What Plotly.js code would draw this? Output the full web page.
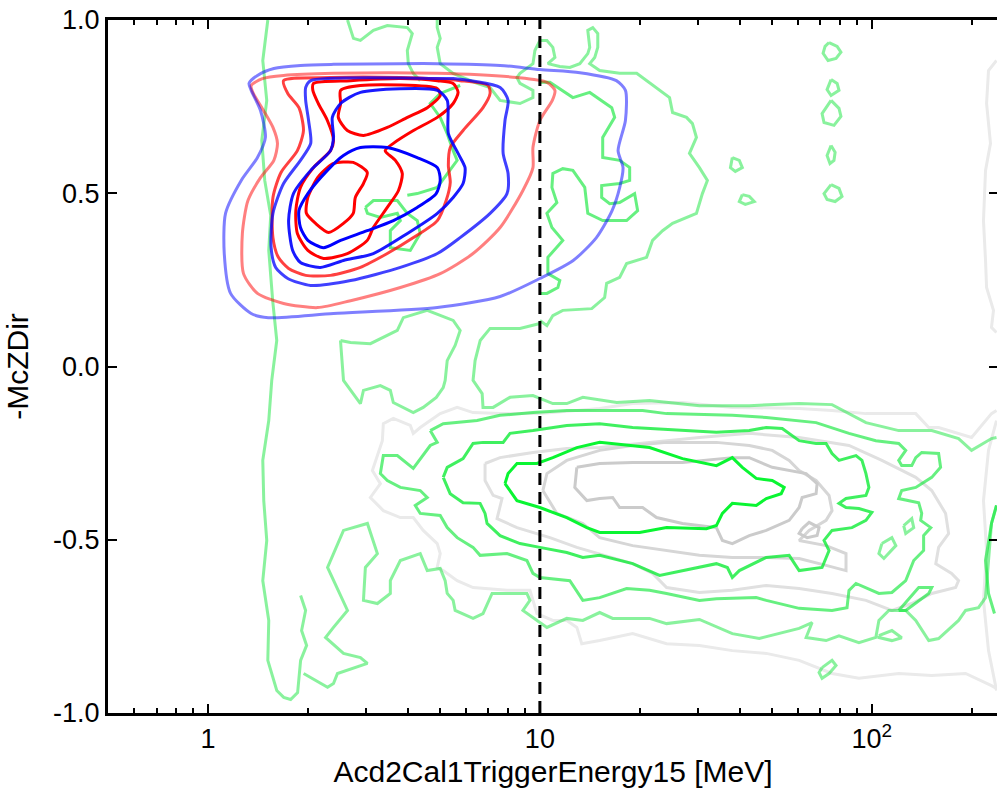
<!DOCTYPE html>
<html><head><meta charset="utf-8">
<script src="https://cdn.plot.ly/plotly-3.0.1.min.js"></script>
<style>html,body{margin:0;padding:0;overflow:hidden;background:#fff}#chart{width:1000px;height:793px}</style>
</head><body><div id="chart"></div>
<script>
// ---- contour paths in data units: x = Acd2Cal1TriggerEnergy15 [MeV], y = -McZDir ----
// blue sample
const blueOuterX=[1.33,1.41,1.58,1.90,2.39,3.80,4.91,7.59,10.0,13.2,17.0,18.1,18.1,17.2,17.8,17.4,16.5,14.8,12.6,10.0,7.59,4.91,2.39,1.52,1.35,1.17,1.12,1.13,1.26,1.41,1.49,1.44,1.35,1.33];
const blueOuterY=[0.817,0.840,0.860,0.869,0.872,0.874,0.874,0.869,0.857,0.848,0.825,0.797,0.710,0.623,0.574,0.517,0.450,0.372,0.306,0.254,0.202,0.170,0.153,0.141,0.153,0.211,0.326,0.442,0.537,0.603,0.661,0.739,0.797,0.817];
const blueMidX=[1.97,2.04,4.91,5.48,7.59,8.02,7.85,7.75,8.02,7.96,7.08,5.75,4.91,3.80,2.69,2.04,1.74,1.60,1.55,1.57,1.69,1.90,2.04,2.01,1.97,1.97];
const blueMidY=[0.805,0.825,0.831,0.831,0.805,0.768,0.710,0.615,0.557,0.499,0.442,0.372,0.326,0.286,0.248,0.234,0.254,0.286,0.343,0.442,0.528,0.595,0.644,0.710,0.768,0.805];
const blueInAX=[2.39,2.37,2.51,2.88,4.91,5.26,5.30,5.67,5.95,5.87,5.48,4.91,3.99,3.15,2.56,2.18,1.90,1.80,1.75,1.81,2.04,2.34,2.39];
const blueInAY=[0.661,0.719,0.759,0.791,0.797,0.768,0.672,0.615,0.574,0.528,0.488,0.442,0.384,0.326,0.306,0.286,0.300,0.335,0.421,0.499,0.566,0.623,0.661];
const blueInBX=[2.56,2.88,3.47,4.27,4.91,5.01,4.87,4.27,3.62,3.02,2.51,2.23,2.00,1.90,1.88,2.00,2.29,2.56];
const blueInBY=[0.609,0.632,0.632,0.603,0.574,0.537,0.499,0.459,0.421,0.392,0.364,0.343,0.364,0.401,0.450,0.499,0.566,0.609];
// red sample
const redOuterX=[1.35,1.46,1.69,2.39,4.91,8.53,10.5,11.1,10.9,10.0,9.53,9.53,8.89,7.59,6.29,5.01,3.80,2.69,2.14,1.69,1.41,1.28,1.27,1.32,1.44,1.58,1.62,1.57,1.47,1.37,1.35];
const redOuterY=[0.811,0.831,0.840,0.846,0.846,0.834,0.820,0.797,0.768,0.710,0.632,0.574,0.508,0.401,0.326,0.268,0.228,0.190,0.170,0.182,0.211,0.268,0.384,0.479,0.545,0.595,0.644,0.690,0.739,0.788,0.811];
const redMidX=[1.69,2.34,3.80,5.75,6.98,7.08,6.74,5.87,5.37,5.30,5.37,5.22,4.91,4.16,3.47,2.88,2.34,1.97,1.75,1.63,1.57,1.57,1.66,1.86,1.94,1.88,1.74,1.69];
const redMidY=[0.825,0.834,0.834,0.825,0.811,0.788,0.747,0.681,0.632,0.580,0.531,0.479,0.421,0.372,0.326,0.286,0.263,0.263,0.283,0.315,0.372,0.488,0.560,0.623,0.681,0.747,0.788,0.825];
const redInX=[2.08,2.69,3.80,4.91,5.48,5.67,5.48,4.91,4.16,3.62,3.42,3.67,3.85,3.75,3.47,3.15,3.02,2.63,2.23,2.00,1.86,1.84,1.90,2.08,2.34,2.39,2.29,2.15,2.07,2.08];
const redInY=[0.817,0.825,0.831,0.825,0.817,0.791,0.759,0.719,0.681,0.644,0.623,0.595,0.557,0.508,0.459,0.401,0.364,0.326,0.312,0.335,0.384,0.450,0.517,0.574,0.623,0.652,0.710,0.759,0.797,0.817];
const redCoreAX=[2.51,2.88,4.91,5.01,4.58,3.99,3.47,2.94,2.63,2.47,2.51,2.51];
const redCoreAY=[0.797,0.811,0.802,0.782,0.747,0.719,0.690,0.667,0.681,0.719,0.759,0.797];
const redCoreBX=[2.39,2.74,3.02,2.94,2.78,2.74,2.56,2.31,2.11,1.98,2.00,2.14,2.29,2.39];
const redCoreBY=[0.586,0.589,0.560,0.528,0.488,0.442,0.413,0.387,0.413,0.442,0.488,0.545,0.574,0.586];
// green sample
const g1LeftX=[1.515,1.463,1.504,1.453,1.483,1.546,1.525,1.567,1.612,1.557,1.525,1.463,1.473,1.504,1.463,1.525,1.515,1.612,1.692,1.775,1.863,1.902,1.983,1.915,1.969,1.902];
const g1LeftY=[1.0,0.883,0.768,0.652,0.537,0.436,0.335,0.190,0.075,-0.040,-0.156,-0.271,-0.387,-0.502,-0.618,-0.733,-0.848,-0.935,-0.955,-0.961,-0.941,-0.848,-0.805,-0.762,-0.704,-0.661];
const g1LowX=[1.942,2.293,2.389,2.456,3.023,2.880,2.561,2.261,2.389,2.633,2.293,2.561,3.023,3.129,3.239,2.981,2.941,3.239,3.544,3.544,3.798,4.361,4.578,5.009,5.184,5.258,5.480,5.555,6.29,6.74,7.177,9.14,9.333,8.89,9.80,10.50,12.05,13.47,15.14,16.57,21.40,24.08,30.24,37.99,45.80,60.39,66.07,63.39,72.79,79.63,91.44,102.8,105.0,112.5,126.5,135.6,148.4,158.9,182.5,191.6,209.6,220.0,224.6,229.3,237.4];
const g1LowY=[-0.886,-0.926,-0.915,-0.886,-0.857,-0.840,-0.828,-0.782,-0.753,-0.704,-0.580,-0.473,-0.453,-0.494,-0.540,-0.580,-0.675,-0.684,-0.655,-0.618,-0.560,-0.540,-0.589,-0.583,-0.618,-0.655,-0.675,-0.704,-0.727,-0.713,-0.655,-0.655,-0.675,-0.704,-0.733,-0.753,-0.727,-0.733,-0.710,-0.727,-0.727,-0.742,-0.730,-0.771,-0.785,-0.756,-0.739,-0.782,-0.791,-0.777,-0.797,-0.782,-0.733,-0.704,-0.704,-0.733,-0.791,-0.785,-0.733,-0.704,-0.696,-0.667,-0.560,-0.453,-0.401];
const g1BandTopX=[10.0,8.71,7.08,6.61,6.38,6.29,6.70,6.74,7.23,8.128,9.53,10.94,12.05,13.47,17.04,21.40,30.24,42.73,60.39,75.87,95.98,120.5,151.5,182.5,199.7,229.3,237.4];
const g1BandTopY=[0.124,0.110,0.110,0.075,0.017,-0.040,-0.078,-0.118,-0.118,-0.089,-0.084,-0.107,-0.107,-0.089,-0.104,-0.098,-0.113,-0.113,-0.107,-0.110,-0.162,-0.185,-0.185,-0.208,-0.242,-0.208,-0.205];
const g1HoleX=[2.508,2.561,2.880,2.941,3.307,3.544,3.618,4.155,4.452,4.874,5.114,5.184,5.258,5.555,5.752,5.48,4.578,3.878,3.720,3.086,2.688,2.508];
const g1HoleY=[0.075,-0.040,-0.107,-0.069,-0.055,-0.069,-0.104,-0.133,-0.118,-0.089,-0.061,-0.040,0.017,0.061,0.104,0.133,0.162,0.141,0.104,0.066,0.069,0.075];
const g1UpperX=[10.0,10.50,10.94,11.72,14.33,15.67,15.89,17.39,18.25,20.96,21.85,23.42,25.10,29.62,30.87,31.96,30.24,28.22,29.62,28.81,27.65,25.10,24.58,21.40,19.57,17.39,15.14,14.13,14.63,14.94,14.94,14.43,13.94,14.13,13.94,13.19,12.31,11.48,10.57,11.10,10.94,10.50,10.0,9.66,9.53,8.71,8.53,8.71,9.53,9.53,8.71,7.585,7.078,6.469,5.48,5.009,4.906,5.009,4.906,4.906];
const g1UpperY=[0.133,0.118,0.147,0.162,0.167,0.199,0.240,0.257,0.297,0.315,0.364,0.392,0.413,0.442,0.499,0.537,0.574,0.615,0.661,0.701,0.719,0.733,0.776,0.820,0.846,0.846,0.854,0.874,0.892,0.921,0.961,0.978,0.970,0.921,0.903,0.874,0.863,0.866,0.874,0.892,0.921,0.941,0.941,0.912,0.874,0.846,0.834,0.817,0.797,0.776,0.759,0.768,0.805,0.817,0.846,0.874,0.921,0.947,0.978,1.0];
const g1TopLeftX=[2.633,2.744,2.880,3.151,3.471,3.987,4.127,3.987,4.015,4.155,4.361];
const g1TopLeftY=[1.0,0.947,0.941,0.970,0.984,0.978,0.961,0.912,0.874,0.846,0.825];
const g1IslandX=[[74.3,78.6,80.7,78.0,73.8,71.3,72.3,74.3],[75.35,78.6,79.63,75.35,73.3,75.35],[75.35,79.63,80.7,76.9,71.77,70.8,75.35],[75.35,77.5,76.9,74.8,73.3,75.35],[75.35,79.63,81.3,77.5,73.3,71.77,75.35],[37.99,39.88,40.72,38.79,37.5,37.99],[40.72,42.73,44.23,41.57,39.88,40.72],[70.80,75.87,78.0,74.31,70.80,69.34,70.80],[105.0,114.9,123.0,114.9,105.0,105.0],[107.2,114.9,118.1,111.0,108.7,105.0,107.2],[124.7,131.9,133.7,126.5,124.7]];
const g1IslandY=[[0.935,0.924,0.907,0.889,0.883,0.904,0.924,0.935],[0.828,0.817,0.797,0.782,0.799,0.828],[0.768,0.745,0.722,0.696,0.704,0.730,0.768],[0.638,0.618,0.595,0.586,0.609,0.638],[0.525,0.514,0.491,0.476,0.482,0.499,0.525],[0.603,0.595,0.574,0.563,0.574,0.603],[0.496,0.491,0.476,0.468,0.476,0.496],[-0.869,-0.848,-0.863,-0.886,-0.900,-0.883,-0.869],[-0.777,-0.762,-0.783,-0.791,-0.782,-0.777],[-0.511,-0.494,-0.517,-0.545,-0.554,-0.540,-0.511],[-0.459,-0.439,-0.465,-0.482,-0.459]];
const g2BandX=[4.674,5.114,6.469,7.585,9.53,12.05,15.14,20.39,24.08,37.99,48.08,67.93,85.33,102.8,120.5,126.5,120.5,123.0,131.9,135.6,141.3,158.9,161.1,151.5,135.6,123.0,120.5,138.4,141.3,140.3,150.5,143.2,143.2,133.7,126.5,114.9,105.0,95.98,89.57,85.33,84.17,75.87,60.39,48.08,44.85,34.02,30.24,24.08,21.40,18.25,15.14,13.47,12.31,10.0,9.53,9.14,7.96,6.605,6.29,5.634,5.258,5.009,4.361,4.213,4.578,4.361,3.798,3.471,3.307,3.376,3.720,4.155,4.674,4.906,4.674];
const g2BandY=[-0.185,-0.165,-0.156,-0.141,-0.133,-0.127,-0.127,-0.127,-0.136,-0.141,-0.147,-0.162,-0.193,-0.214,-0.222,-0.242,-0.271,-0.286,-0.286,-0.263,-0.248,-0.251,-0.291,-0.320,-0.349,-0.358,-0.381,-0.393,-0.424,-0.444,-0.465,-0.488,-0.531,-0.560,-0.618,-0.652,-0.655,-0.638,-0.626,-0.646,-0.696,-0.704,-0.698,-0.675,-0.667,-0.670,-0.675,-0.655,-0.646,-0.641,-0.667,-0.675,-0.618,-0.609,-0.597,-0.560,-0.540,-0.545,-0.522,-0.494,-0.465,-0.430,-0.424,-0.401,-0.378,-0.358,-0.349,-0.329,-0.309,-0.257,-0.257,-0.294,-0.228,-0.219,-0.185];
const g2UpperX=[10.0,10.72,12.57,14.13,16.46,16.80,15.46,15.46,17.39,18.64,18.64,17.39,15.35,15.35,16.23,17.39,19.29,19.70,18.25,15.46,13.94,13.65,12.57,11.72,10.94,10.87,11.25,10.50,10.87,11.72,10.57,10.57,11.48,11.33,10.50,10.0];
const g2UpperY=[0.820,0.820,0.776,0.791,0.747,0.719,0.661,0.603,0.595,0.574,0.537,0.528,0.522,0.488,0.470,0.473,0.499,0.450,0.421,0.421,0.442,0.517,0.566,0.571,0.557,0.517,0.473,0.442,0.401,0.364,0.315,0.268,0.248,0.228,0.211,0.211];
const g2MidX=[3.987,4.272,4.906,5.258,5.634,5.48,5.258,5.009,4.674,5.009,5.752];
const g2MidY=[0.494,0.499,0.517,0.557,0.595,0.623,0.672,0.719,0.759,0.788,0.811];
const g2LoopX=[2.981,3.151,3.720,3.987,4.272,4.361,4.070,3.544,3.544,3.798,3.720,3.307,3.023,2.981];
const g2LoopY=[0.459,0.479,0.479,0.442,0.421,0.384,0.335,0.343,0.392,0.421,0.442,0.430,0.442,0.459];
const g2RightX=[237.4,229.3,220.0,224.6,234.1];
const g2RightY=[-0.401,-0.453,-0.560,-0.655,-0.713];
const g2IslandX=[120.5,138.4,151.5,148.4,126.5,120.5];
const g2IslandY=[-0.704,-0.638,-0.638,-0.655,-0.704,-0.704];
const g3X=[5.114,5.258,5.87,6.29,6.74,7.75,8.128,9.53,12.05,15.14,19.03,24.08,34.02,42.73,48.08,53.69,60.39,67.93,72.79,75.87,79.63,89.57,93.36,95.98,97.98,95.98,83.59,79.63,83.59,91.44,100.0,95.98,87.12,75.87,71.77,74.31,70.80,60.39,56.35,48.08,39.88,37.99,36.71,34.02,26.89,25.10,22.94,19.03,15.14,13.47,12.05,10.0,8.71,7.585,6.933,6.836,6.605,5.87,5.367,5.114];
const g3Y=[-0.320,-0.291,-0.266,-0.222,-0.219,-0.219,-0.193,-0.185,-0.170,-0.165,-0.176,-0.182,-0.190,-0.185,-0.176,-0.179,-0.214,-0.222,-0.222,-0.251,-0.271,-0.257,-0.271,-0.309,-0.349,-0.372,-0.381,-0.395,-0.407,-0.410,-0.421,-0.444,-0.465,-0.473,-0.502,-0.531,-0.580,-0.589,-0.545,-0.551,-0.589,-0.609,-0.580,-0.569,-0.589,-0.597,-0.603,-0.569,-0.545,-0.551,-0.537,-0.522,-0.511,-0.488,-0.453,-0.424,-0.395,-0.393,-0.367,-0.320];
const g4X=[7.85,8.02,8.53,9.80,10.94,12.92,15.14,18.25,21.40,26.89,34.02,37.99,40.72,44.85,50.10,54.43,53.32,48.08,44.85,37.99,35.46,34.02,31.74,24.08,19.97,15.14,13.85,12.05,10.0,8.53,7.85];
const g4Y=[-0.338,-0.309,-0.280,-0.280,-0.263,-0.234,-0.219,-0.228,-0.234,-0.266,-0.286,-0.263,-0.291,-0.323,-0.329,-0.349,-0.367,-0.381,-0.401,-0.395,-0.424,-0.459,-0.468,-0.465,-0.479,-0.479,-0.465,-0.436,-0.407,-0.387,-0.338];
// grey sample
const greyAX=[237.4,229.3,199.7,158.9,148.4,135.6,95.98,75.87,60.39,37.99,26.89,19.03,15.14,10.0,7.585,6.29,5.634,5.009,4.361,4.155,4.070,3.618,3.376,3.353,3.129,3.307,3.086,3.376,3.798,4.155,4.452,4.906,5.009,4.906,5.114,5.634,6.29,7.96,9.333,9.80,10.94,12.05,12.92,13.37,15.14,19.03,24.08,30.24,37.99,48.08,60.39,75.87,91.44,120.5,151.5,191.6,229.3,237.4];
const greyAY=[-0.127,-0.136,-0.205,-0.176,-0.176,-0.136,-0.136,-0.127,-0.121,-0.118,-0.104,-0.107,-0.121,-0.136,-0.136,-0.133,-0.118,-0.136,-0.176,-0.193,-0.170,-0.150,-0.165,-0.214,-0.300,-0.338,-0.378,-0.416,-0.436,-0.436,-0.473,-0.511,-0.540,-0.580,-0.589,-0.618,-0.638,-0.646,-0.646,-0.713,-0.733,-0.733,-0.753,-0.800,-0.791,-0.771,-0.800,-0.805,-0.820,-0.828,-0.848,-0.886,-0.900,-0.886,-0.892,-0.886,-0.921,-0.929];
const greyBX=[6.836,7.585,9.53,12.05,15.14,21.40,30.24,42.73,60.39,85.33,107.2,135.6,151.5,166.8,170.3,158.9,155.8,173.9,182.5,178.8,151.5,131.9,114.9,95.98,75.87,60.39,48.08,37.99,30.24,24.08,21.85,19.03,15.14,12.92,10.72,8.53,7.43,7.69,7.23,6.836,6.836];
const greyBY=[-0.280,-0.263,-0.248,-0.237,-0.234,-0.219,-0.205,-0.193,-0.205,-0.228,-0.271,-0.320,-0.358,-0.424,-0.482,-0.522,-0.569,-0.597,-0.618,-0.638,-0.655,-0.684,-0.704,-0.675,-0.655,-0.641,-0.632,-0.646,-0.652,-0.638,-0.597,-0.569,-0.540,-0.522,-0.494,-0.465,-0.439,-0.381,-0.372,-0.329,-0.280];
const greyCX=[10.21,10.50,12.05,15.14,19.03,24.08,34.02,42.73,50.10,56.35,60.39,67.93,74.31,75.87,72.79,64.71,60.39,72.79,83.59,83.59,72.79,60.39,48.08,37.99,30.24,24.08,19.03,15.14,13.47,11.25,10.21];
const greyCY=[-0.358,-0.309,-0.271,-0.242,-0.228,-0.219,-0.219,-0.228,-0.242,-0.271,-0.300,-0.329,-0.372,-0.416,-0.444,-0.473,-0.502,-0.517,-0.540,-0.589,-0.574,-0.554,-0.551,-0.551,-0.545,-0.531,-0.517,-0.494,-0.453,-0.424,-0.358];
const greyDX=[12.92,15.14,19.03,26.89,37.99,42.73,50.10,63.39,68.40,67.93,61.66,60.39,56.35,48.08,42.73,37.99,35.46,34.02,26.89,22.46,20.39,17.39,16.57,15.14,13.85,12.74,12.92];
const greyDY=[-0.291,-0.280,-0.277,-0.277,-0.263,-0.263,-0.291,-0.309,-0.338,-0.367,-0.378,-0.407,-0.444,-0.473,-0.488,-0.511,-0.502,-0.465,-0.453,-0.436,-0.407,-0.407,-0.378,-0.381,-0.387,-0.349,-0.291];
const greyLoopX=[61.66,64.71,69.34,68.40,63.85,60.39,61.66];
const greyLoopY=[-0.468,-0.450,-0.465,-0.488,-0.494,-0.482,-0.468];
const greyEdgeTopX=[237.4,224.6,221.6,227.7,220.0,216.9,220.0,221.6,232.5,229.3,237.4];
const greyEdgeTopY=[0.883,0.854,0.759,0.644,0.566,0.421,0.306,0.228,0.162,0.113,0.098];
const greyEdgeLowX=[237.4,224.6,216.9,221.6,216.9,224.6,237.4];
const greyEdgeLowY=[-0.156,-0.242,-0.387,-0.531,-0.675,-0.820,-0.935];
// cut
const cutX=[10,10];
const cutY=[-1,1];
// axis ticks
const xTickVals=[1,10,100];
const xTickText=['1','10','10<sup>2</sup>'];
const xMinorVals=[0.6,0.7,0.8,0.9,2,3,4,5,6,7,8,9,20,30,40,50,60,70,80,90,200];
const yTickVals=[-1,-0.5,0,0.5,1];
const yTickText=['-1.0','-0.5','0.0','0.5','1.0'];

const traces=[];
function add(x,y,color,smooth){
  traces.push({type:'scatter',mode:'lines',x:x,y:y,hoverinfo:'skip',
    line:{color:color,width:3,shape:smooth?'spline':'linear',smoothing:0.7}});
}
const GA='rgb(234,234,234)',GB='rgb(224,224,224)',GC='rgb(214,214,214)',GD='rgb(203,203,203)';
add(greyEdgeTopX,greyEdgeTopY,GA);add(greyEdgeLowX,greyEdgeLowY,GA);
add(greyAX,greyAY,GA);add(greyBX,greyBY,GB);add(greyCX,greyCY,GC);add(greyDX,greyDY,GD);add(greyLoopX,greyLoopY,GD);
const G1='rgba(20,230,60,0.5)',G2='rgba(20,232,60,0.65)',G3='rgba(15,236,55,0.8)',G4='rgb(10,245,50)';
add(g1LeftX,g1LeftY,G1);add(g1LowX,g1LowY,G1);add(g1BandTopX,g1BandTopY,G1);add(g1HoleX,g1HoleY,G1);
add(g1UpperX,g1UpperY,G1);add(g1TopLeftX,g1TopLeftY,G1);
for(let i=0;i<g1IslandX.length;i++) add(g1IslandX[i],g1IslandY[i],G1);
add(g2BandX,g2BandY,G2);add(g2UpperX,g2UpperY,G2);add(g2MidX,g2MidY,G2);add(g2LoopX,g2LoopY,G2);add(g2RightX,g2RightY,G2);add(g2IslandX,g2IslandY,G2);
add(g3X,g3Y,G3);add(g4X,g4Y,G4);
add(redOuterX,redOuterY,'rgba(255,0,0,0.5)',1);add(redMidX,redMidY,'rgba(255,0,0,0.75)',1);
add(redInX,redInY,'rgb(255,0,0)',1);add(redCoreAX,redCoreAY,'rgb(255,0,0)',1);add(redCoreBX,redCoreBY,'rgb(255,0,0)',1);
add(blueOuterX,blueOuterY,'rgba(0,0,255,0.5)',1);add(blueMidX,blueMidY,'rgba(0,0,255,0.75)',1);
add(blueInAX,blueInAY,'rgba(0,0,255,0.9)',1);add(blueInBX,blueInBY,'rgb(0,0,255)',1);
traces.push({type:'scatter',mode:'lines',x:cutX,y:cutY,hoverinfo:'skip',line:{color:'black',width:3,dash:'12px,7px'}});

const layout={
  width:1000,height:793,margin:{l:108,r:2,t:20,b:80},
  paper_bgcolor:'white',plot_bgcolor:'white',showlegend:false,
  xaxis:{type:'log',range:[-0.301,2.380],showgrid:false,zeroline:false,
    showline:true,linecolor:'black',linewidth:3,mirror:'ticks',
    ticks:'inside',ticklen:9,tickwidth:2,tickcolor:'black',
    tickmode:'array',tickvals:xTickVals,ticktext:xTickText,
    tickfont:{family:'Liberation Sans Narrow, Liberation Sans, Arial',size:27,color:'black'},
    minor:{tickmode:'array',tickvals:xMinorVals,ticks:'inside',ticklen:5,tickwidth:2,tickcolor:'black',showgrid:false},
    title:{text:'Acd2Cal1TriggerEnergy15 [MeV]',font:{family:'Liberation Sans, Arial',size:30,color:'black'},standoff:8}},
  yaxis:{range:[-1,1],showgrid:false,zeroline:false,
    showline:true,linecolor:'black',linewidth:3,mirror:'ticks',
    ticks:'inside',ticklen:9,tickwidth:2,tickcolor:'black',
    tickmode:'array',tickvals:yTickVals,ticktext:yTickText,
    tickfont:{family:'Liberation Sans, Arial',size:27,color:'black'},
    title:{text:'-McZDir',font:{family:'Liberation Sans, Arial',size:30,color:'black'},standoff:16}}
};
Plotly.newPlot('chart',traces,layout,{displayModeBar:false,staticPlot:true});
</script></body></html>
